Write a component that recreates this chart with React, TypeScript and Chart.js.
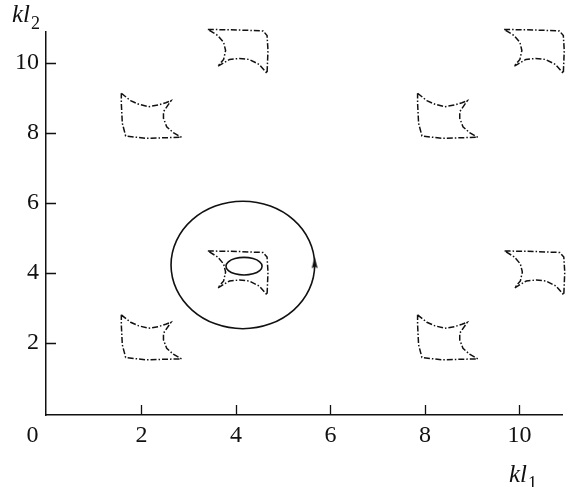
import { useEffect, useRef } from 'react';
import { Chart, registerables } from 'chart.js';

Chart.register(...registerables);

type Pt = [number, number];

// Axis ranges and tick values
const X_RANGE: Pt = [-0.02, 10.9];
const Y_RANGE: Pt = [-0.066, 10.877];
const X_TICKS = [2, 4, 6, 8, 10];
const Y_TICKS = [2, 4, 6, 8, 10];

// Separatrix cell with a straight left edge and concave top / right edges
const cellLeft: Pt[] = [
  [1.574, 9.126], [1.77, 8.914], [1.944, 8.811], [2.152, 8.743], [2.361, 8.791],
  [2.514, 8.857], [2.626, 8.914], [2.466, 8.6], [2.466, 8.411], [2.534, 8.171],
  [2.674, 8.0], [2.848, 7.869], [2.084, 7.84], [1.666, 7.906], [1.595, 8.269],
  [1.574, 8.84], [1.574, 9.126],
];
// Where the cells of that kind repeat (shift from the first one)
const cellLeftShifts: Pt[] = [[0, 0], [0, -6.33], [6.27, 0], [6.27, -6.33]];

// Separatrix cell with a straight top / right edge and concave left / bottom edges
const cellRight: Pt[] = [
  [3.405, 4.62], [4.031, 4.606], [4.574, 4.577], [4.658, 4.449], [4.678, 4.02],
  [4.658, 3.363], [4.491, 3.62], [4.282, 3.763], [4.073, 3.791], [3.865, 3.763],
  [3.614, 3.563], [3.739, 3.763], [3.781, 4.02], [3.739, 4.249], [3.614, 4.449],
  [3.405, 4.62],
];
const cellRightShifts: Pt[] = [[0, 0], [0, 6.33], [6.27, 6.33], [6.28, 0]];

// Large closed trajectory around the central cell
const orbit: Pt[] = [
  [5.666, 4.22], [5.55, 4.917], [5.221, 5.507], [4.728, 5.902], [4.146, 6.04],
  [3.564, 5.902], [3.071, 5.507], [2.742, 4.917], [2.626, 4.22], [2.742, 3.523],
  [3.071, 2.933], [3.564, 2.538], [4.146, 2.4], [4.728, 2.538], [5.221, 2.933],
  [5.55, 3.523],
];

// Small closed trajectory inside the central cell
const innerOrbit: Pt[] = [
  [4.553, 4.186], [4.502, 4.312], [4.362, 4.403], [4.171, 4.437], [3.98, 4.403],
  [3.84, 4.312], [3.789, 4.186], [3.84, 4.06], [3.98, 3.969], [4.171, 3.935],
  [4.362, 3.969], [4.502, 4.06],
];

// Direction arrow on the large trajectory
const arrowAt: Pt = [5.666, 4.27];

const SERIF = 'Liberation Serif';
const INK = '#111';

const toXY = (pts: Pt[], shift: Pt = [0, 0]) =>
  pts.map(([x, y]) => ({ x: x + shift[0], y: y + shift[1] }));

// Wrap a closed loop with one point before and two after, so every visible
// segment has neighbours on both sides and the spline stays smooth.
const wrapLoop = (pts: Pt[]): Pt[] => [pts[pts.length - 1], ...pts, pts[0], pts[1]];

function makeArrowHead(): HTMLCanvasElement {
  const c = document.createElement('canvas');
  c.width = 8;
  c.height = 12;
  const g = c.getContext('2d')!;
  g.fillStyle = INK;
  g.beginPath();
  g.moveTo(4, 0);
  g.lineTo(7, 11);
  g.lineTo(4, 9.5);
  g.lineTo(1, 11);
  g.closePath();
  g.fill();
  return c;
}

// Inward tick marks, the origin label and the axis names with subscripts
const axisDecor = {
  id: 'axisDecor',
  afterDraw(chart: Chart) {
    const { ctx } = chart;
    const xs = chart.scales.x;
    const ys = chart.scales.y;
    const left = xs.left;
    const bottom = ys.bottom;
    ctx.save();
    ctx.strokeStyle = INK;
    ctx.lineWidth = 1.3;
    ctx.beginPath();
    for (const v of X_TICKS) {
      const px = Math.round(xs.getPixelForValue(v)) + 0.5;
      ctx.moveTo(px, bottom);
      ctx.lineTo(px, bottom - 10);
    }
    for (const v of Y_TICKS) {
      const py = Math.round(ys.getPixelForValue(v)) + 0.5;
      ctx.moveTo(left, py);
      ctx.lineTo(left + 10, py);
    }
    ctx.stroke();

    ctx.fillStyle = INK;
    ctx.textBaseline = 'alphabetic';
    ctx.font = `24px ${SERIF}`;
    ctx.textAlign = 'center';
    ctx.fillText('0', left - 13.5, bottom + 27);

    ctx.textAlign = 'left';
    const drawName = (x: number, y: number, sub: string) => {
      ctx.font = `italic 25px ${SERIF}`;
      ctx.fillText('kl', x, y);
      const w = ctx.measureText('kl').width;
      ctx.font = `18px ${SERIF}`;
      ctx.fillText(sub, x + w + 1, y + 6.5);
    };
    drawName(12, 22, '2');
    drawName(509, 482, '1');
    ctx.restore();
  },
};

export default function App() {
  const ref = useRef<HTMLCanvasElement | null>(null);

  useEffect(() => {
    if (!ref.current) return;
    const dash = {
      borderColor: INK,
      borderWidth: 1.5,
      borderDash: [6, 2, 1.5, 2],
      pointRadius: 0,
      tension: 0,
      fill: false,
      clip: false as const,
    };
    const loopStyle = (n: number) => ({
      borderColor: INK,
      borderWidth: 1.6,
      pointRadius: 0,
      tension: 0.4,
      fill: false,
      clip: false,
      segment: {
        // hide the two helper segments at the ends of the wrapped loop
        borderColor: (c: any) =>
          c.p0DataIndex === 0 || c.p0DataIndex === n + 1 ? 'rgba(0,0,0,0)' : INK,
      },
    });
    const datasets: any[] = [
      ...cellLeftShifts.map((s) => ({ ...dash, data: toXY(cellLeft, s) })),
      ...cellRightShifts.map((s) => ({ ...dash, data: toXY(cellRight, s) })),
      { ...loopStyle(orbit.length), data: toXY(wrapLoop(orbit)) },
      { ...loopStyle(innerOrbit.length), data: toXY(wrapLoop(innerOrbit)) },
      {
        type: 'scatter',
        data: toXY([arrowAt]),
        pointStyle: makeArrowHead(),
        pointRadius: 6,
        showLine: false,
        clip: false,
      },
    ];

    const tickFont = { family: SERIF, size: 24 };
    const chart = new Chart(ref.current, {
      type: 'line',
      data: { datasets },
      options: {
        responsive: false,
        animation: false,
        layout: { padding: { top: 32, right: 0, left: 0, bottom: 0 } },
        plugins: { legend: { display: false }, tooltip: { enabled: false } },
        scales: {
          x: {
            type: 'linear',
            min: X_RANGE[0],
            max: X_RANGE[1],
            afterBuildTicks: (s: any) => {
              s.ticks = X_TICKS.map((value) => ({ value }));
            },
            afterFit: (s: any) => {
              s.height = 72;
            },
            grid: { display: false, drawTicks: false },
            border: { display: true, color: INK, width: 1.5 },
            ticks: { font: tickFont, color: INK, padding: 6, maxRotation: 0 },
          },
          y: {
            type: 'linear',
            min: Y_RANGE[0],
            max: Y_RANGE[1],
            afterBuildTicks: (s: any) => {
              s.ticks = Y_TICKS.map((value) => ({ value }));
            },
            afterFit: (s: any) => {
              s.width = 46;
            },
            grid: { display: false, drawTicks: false },
            border: { display: true, color: INK, width: 1.5 },
            ticks: { font: tickFont, color: INK, padding: 7 },
          },
        },
      },
      plugins: [axisDecor],
    });

    return () => chart.destroy();
  }, []);

  return (
    <div style={{ position: 'absolute', left: 0, top: 0, width: 569, height: 487, background: '#fff' }}>
      <canvas ref={ref} width={569} height={487} />
    </div>
  );
}
